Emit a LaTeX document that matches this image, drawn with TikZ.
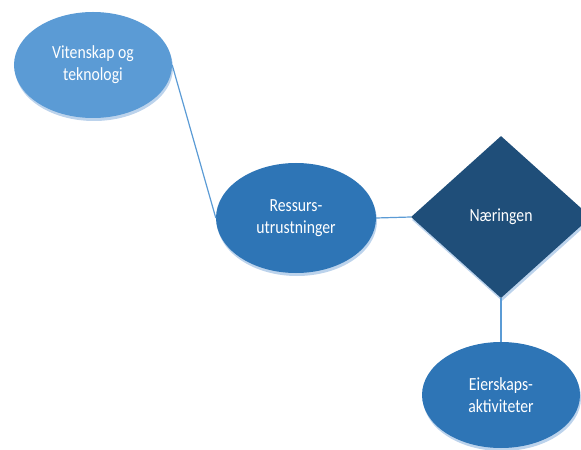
\documentclass[tikz,border=0pt]{standalone}
\usepackage{fontspec}
\setmainfont{Carlito}[FakeStretch=0.85]
\usetikzlibrary{shapes.geometric,shadows}
\definecolor{lightblue}{HTML}{5B9BD5}
\definecolor{midblue}{HTML}{2E75B6}
\definecolor{darkblue}{HTML}{1F4E79}
\definecolor{shadowblue}{HTML}{BCD3EC}
\definecolor{linkblue}{HTML}{5B9BD5}
\tikzset{
  soft/.style={drop shadow={fill=shadowblue,opacity=1,shadow xshift=1bp,shadow yshift=-3bp}},
  label text/.style={text=white,align=center,font=\fontsize{18.5bp}{22bp}\selectfont,inner sep=0pt},
  bubble/.style={ellipse,soft,label text,minimum width=158bp,minimum height=106bp},
  gem/.style={diamond,soft,label text,fill=darkblue,minimum width=180bp,minimum height=162bp,aspect=1.11},
  link/.style={draw=linkblue,line width=1.2bp}
}
\begin{document}
\begin{tikzpicture}[x=1bp,y=-1bp]
\useasboundingbox (0,0) rectangle (581,450);
\node[bubble,fill=lightblue] (sci) at (93,65) {Vitenskap og\\teknologi};
\node[bubble,fill=midblue,minimum width=160bp,minimum height=110bp] (res) at (296,218) {Ressurs-\\utrustninger};
\node[gem] (ind) at (501,217) {Næringen};
\node[bubble,fill=midblue] (own) at (501,395) {Eierskaps-\\aktiviteter};
\draw[link] (sci.east) -- (res.west);
\draw[link] (res.east) -- (ind.west);
\draw[link] (ind.south) -- (own.north);
\end{tikzpicture}
\end{document}
